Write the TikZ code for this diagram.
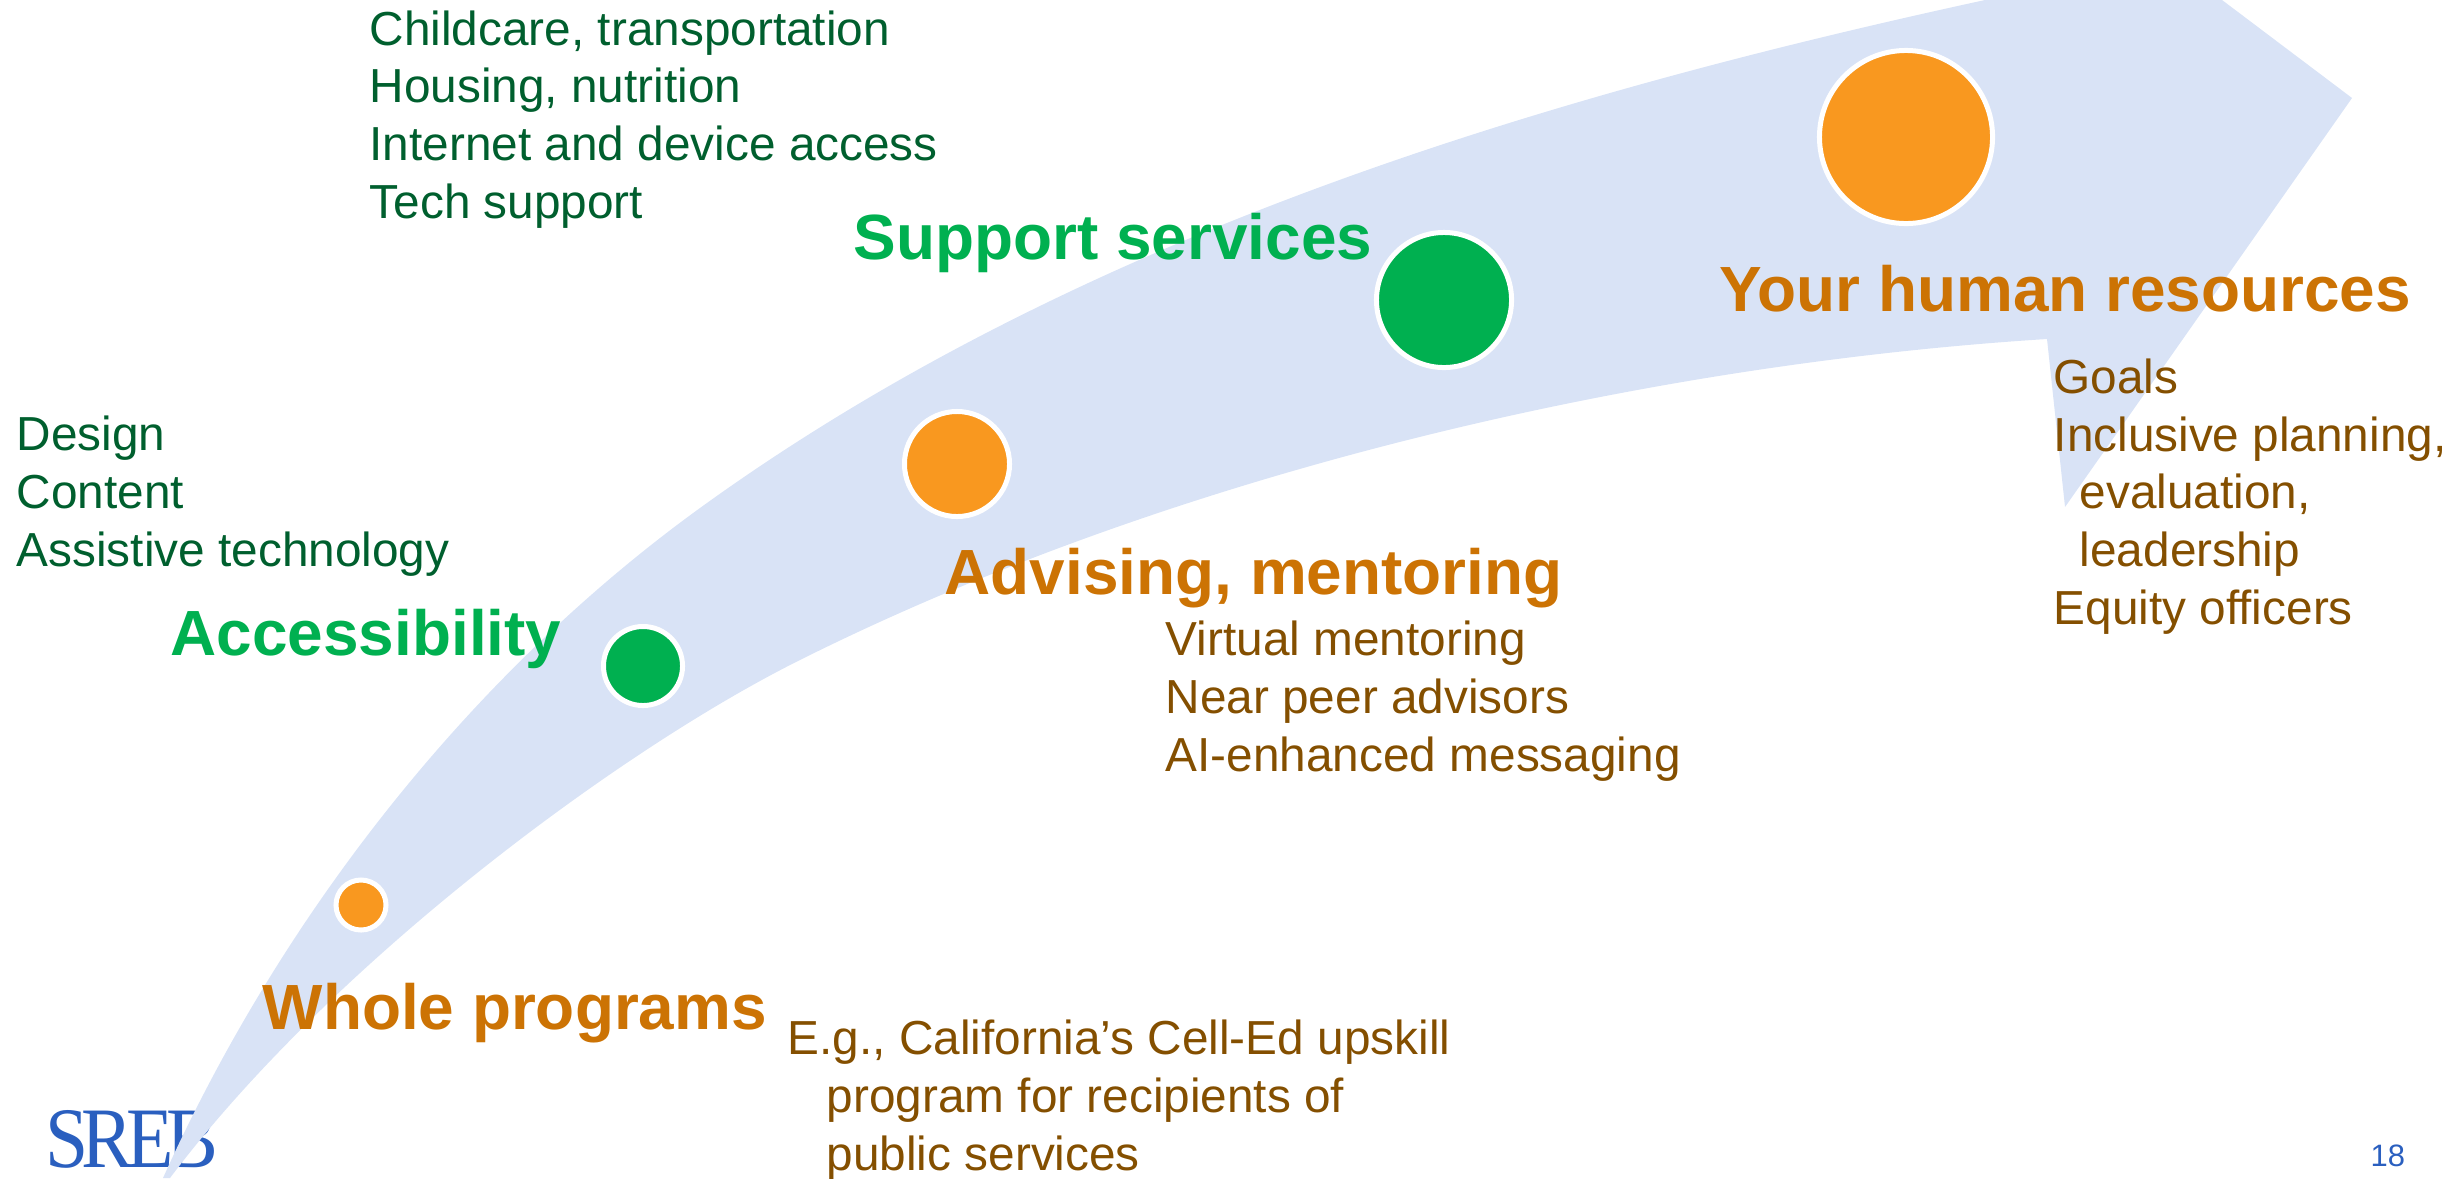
\documentclass[tikz,border=0pt]{standalone}
\usepackage{fontspec}
\setmainfont{Liberation Sans}
\newfontfamily\logofont[LetterSpace=-9]{Liberation Serif}
\usetikzlibrary{calc}
\definecolor{bandblue}{HTML}{D9E3F6}
\definecolor{dotorange}{HTML}{F9981F}
\definecolor{dotgreen}{HTML}{00B050}
\definecolor{headorange}{HTML}{CC7304}
\definecolor{subbrown}{HTML}{844F00}
\definecolor{subgreen}{HTML}{005F2E}
\definecolor{srebblue}{HTML}{2A5FBF}
\tikzset{
dot/.style = {circle, draw=white, line width=.05cm, minimum size=#1,
              inner sep=0pt},
dot/.default = 1cm % diameter of the circle
}

\begin{document}
\begin{tikzpicture}[x=.01cm,y=-.01cm,
hO/.style={anchor=base west, inner sep=0pt, text=headorange, font=\fontsize{18.17}{22}\selectfont\bfseries},
hG/.style={anchor=base west, inner sep=0pt, text=dotgreen, font=\fontsize{18.17}{22}\selectfont\bfseries},
sO/.style={anchor=base west, inner sep=0pt, align=left, text=subbrown, font=\fontsize{13.58}{16.36}\selectfont},
sG/.style={anchor=base west, inner sep=0pt, align=left, text=subgreen, font=\fontsize{13.58}{16.36}\selectfont}]
%
\useasboundingbox (0,0) rectangle (2458,1178);
%
\node[anchor=base west, inner sep=0pt, text=srebblue, xscale=.9, font=\fontsize{24.5}{26}\logofont] at (45,1167) (logo) {SREB};

\fill[bandblue] (163,1178) .. controls (280,918) and (468,676) .. (700,508)
  .. controls (1073,238) and (1536,97.5) .. (1985,0)
  -- (2222,0) -- (2352,98) -- (2065,507) -- (2047,339)
  .. controls (1620,366) and (1158,481) .. (800,660)
  .. controls (621,749) and (332,963) .. (170,1178)
  -- cycle;

\node[dot=.50cm, fill=dotorange] at (361,905) (Cprog) {};
\node[dot=.79cm, fill=dotgreen] at (643,666) (Caccess) {};
\node[dot=1.05cm, fill=dotorange] at (957,464) (Cadvise) {};
\node[dot=1.35cm, fill=dotgreen] at (1444,300) (Csupport) {};
\node[dot=1.73cm, fill=dotorange] at (1906,137) (Chuman) {};

\node[hO] at (262,1029) (Hprog) {Whole programs};
\node[hG] at (170,655) (Haccess) {Accessibility};
\node[hO] at (944,594) (Hadvise) {Advising, mentoring};
\node[hG] at (853,259) (Hsupport) {Support services};
\node[hO] at (1719,311) (Hhuman) {Your human resources};

\node[sO] at (787,1170) (Tprog) {E.g., California’s Cell-Ed upskill\\\hspace*{.39cm}program for recipients of\\\hspace*{.39cm}public services};
\node[sG] at (16,566) (Taccess) {Design\\Content\\Assistive technology};
\node[sO] at (1165,771) (Tadvise) {Virtual mentoring\\Near peer advisors\\AI-enhanced messaging};
\node[sG] at (369,218) (Tsupport) {Childcare, transportation\\Housing, nutrition\\Internet and device access\\Tech support};
\node[sO] at (2053,624) (Thuman) {Goals\\Inclusive planning,\\\hspace*{.26cm}evaluation,\\\hspace*{.26cm}leadership\\Equity officers};

\node[anchor=base west, inner sep=0pt, text=srebblue, font=\fontsize{8.8}{10}\selectfont] at (2370,1166) (Pnum) {18};

\end{tikzpicture}
\end{document}
